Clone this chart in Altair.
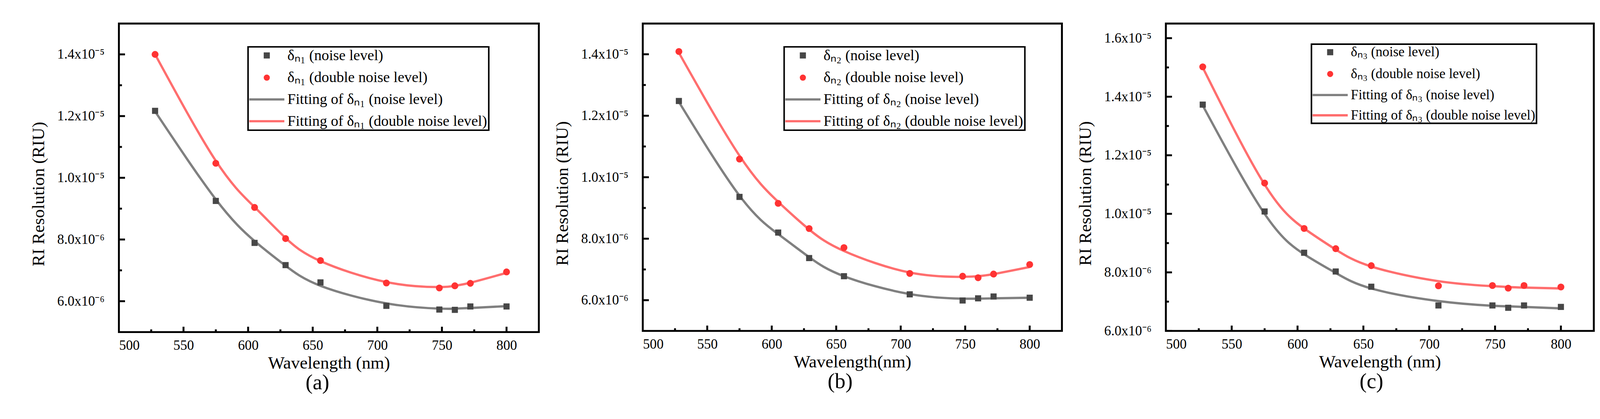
import altair as alt
import pandas as pd

# wavelengths of the measured points (nm)
WL = [528, 575, 605, 629, 656, 707, 748, 760, 772, 800]

# (a) delta_n1
A_NOISE = [1.217e-5, 9.25e-6, 7.89e-6, 7.17e-6, 6.61e-6, 5.85e-6, 5.73e-6, 5.72e-6, 5.83e-6, 5.83e-6]
A_DOUBLE = [1.400e-5, 1.047e-5, 9.04e-6, 8.03e-6, 7.32e-6, 6.59e-6, 6.43e-6, 6.50e-6, 6.58e-6, 6.95e-6]
A_FIT_NOISE = [1.215e-5, 9.30e-6, 7.95e-6, 7.15e-6, 6.50e-6, 5.93e-6, 5.76e-6, 5.76e-6, 5.78e-6, 5.84e-6]
A_FIT_DOUBLE = [1.400e-5, 1.055e-5, 9.05e-6, 8.05e-6, 7.30e-6, 6.62e-6, 6.46e-6, 6.50e-6, 6.60e-6, 6.92e-6]

# (b) delta_n2
B_NOISE = [1.248e-5, 9.36e-6, 8.20e-6, 7.37e-6, 6.78e-6, 6.19e-6, 5.99e-6, 6.06e-6, 6.12e-6, 6.08e-6]
B_DOUBLE = [1.409e-5, 1.059e-5, 9.15e-6, 8.33e-6, 7.71e-6, 6.87e-6, 6.78e-6, 6.73e-6, 6.85e-6, 7.16e-6]
B_FIT_NOISE = [1.245e-5, 9.40e-6, 8.15e-6, 7.40e-6, 6.78e-6, 6.20e-6, 6.05e-6, 6.05e-6, 6.06e-6, 6.08e-6]
B_FIT_DOUBLE = [1.405e-5, 1.070e-5, 9.20e-6, 8.30e-6, 7.60e-6, 6.90e-6, 6.76e-6, 6.78e-6, 6.85e-6, 7.08e-6]

# (c) delta_n3
C_NOISE = [1.373e-5, 1.008e-5, 8.67e-6, 8.03e-6, 7.51e-6, 6.87e-6, 6.87e-6, 6.79e-6, 6.87e-6, 6.82e-6]
C_DOUBLE = [1.502e-5, 1.105e-5, 9.50e-6, 8.81e-6, 8.23e-6, 7.54e-6, 7.55e-6, 7.46e-6, 7.55e-6, 7.50e-6]
C_FIT_NOISE = [1.370e-5, 1.000e-5, 8.62e-6, 7.98e-6, 7.45e-6, 7.02e-6, 6.86e-6, 6.84e-6, 6.82e-6, 6.77e-6]
C_FIT_DOUBLE = [1.500e-5, 1.100e-5, 9.50e-6, 8.78e-6, 8.20e-6, 7.70e-6, 7.53e-6, 7.50e-6, 7.48e-6, 7.45e-6]

X_MAJOR = [500, 550, 600, 650, 700, 750, 800]
X_MINOR = [525, 575, 625, 675, 725, 775]
Y_MAJOR_AB = [6e-6, 8e-6, 1.0e-5, 1.2e-5, 1.4e-5]
Y_MINOR_AB = [7e-6, 9e-6, 1.1e-5, 1.3e-5]
Y_MAJOR_C = [6e-6, 8e-6, 1.0e-5, 1.2e-5, 1.4e-5, 1.6e-5]
Y_MINOR_C = [7e-6, 9e-6, 1.1e-5, 1.3e-5, 1.5e-5]

FONT = "Liberation Serif"
FILLS = ["#474747", "#ff3333", "transparent", "transparent"]
STROKES = ["transparent", "transparent", "#808080", "#ff6e6e"]
LINE_SYMBOL = "M-5.75,0H5.75"
SHAPES = ["square", "circle", LINE_SYMBOL, LINE_SYMBOL]

SUP_LABELS = (
    "datum.value >= 9.9e-6 ? format(datum.value * 1e5, '.1f') + 'x10\u207b\u2075'"
    " : format(datum.value * 1e6, '.1f') + 'x10\u207b\u2076'"
)


def panel(noise, double, fit_noise, fit_double, sub, letter, ydom, ymaj, ymin,
          width, height, lx, ly, legend_size, x_title, title_dx):
    d = "\u03b4\u2099" + sub
    names = [f"{d} (noise level)", f"{d} (double noise level)",
             f"Fitting of {d} (noise level)", f"Fitting of {d} (double noise level)"]
    pts = pd.DataFrame({
        "wl": WL + WL,
        "val": noise + double,
        "series": [names[0]] * len(WL) + [names[1]] * len(WL),
    })
    fits = pd.DataFrame({
        "wl": WL + WL,
        "val": fit_noise + fit_double,
        "series": [names[2]] * len(WL) + [names[3]] * len(WL),
    })

    x_enc = alt.X("wl:Q", scale=alt.Scale(domain=[500, 825], nice=False, zero=False),
                  axis=alt.Axis(values=X_MAJOR, ticks=False, domain=False, grid=False,
                                format="d", labelFont=FONT, labelFontSize=36, labelColor="black",
                                labelPadding=18, title=x_title, titleFont=FONT,
                                titleFontSize=46, titleFontWeight="normal", titleColor="black",
                                titlePadding=6))
    y_enc = alt.Y("val:Q", scale=alt.Scale(domain=ydom, nice=False, zero=False),
                  axis=alt.Axis(values=ymaj, ticks=False, domain=False, grid=False,
                                labelExpr=SUP_LABELS, labelFont=FONT, labelFontSize=36,
                                labelColor="black", labelPadding=38,
                                title="RI Resolution (RIU)", titleFont=FONT, titleFontSize=46,
                                titleFontWeight="normal", titleColor="black",
                                titleX=-196, titleY=height / 2 + 42,
                                titleAlign="center", titleBaseline="alphabetic"))

    # symbol centre sits at max(symbol, font)/2 + symbolOffset
    off = max(22, legend_size)
    sym_off = 46 - off / 2
    legend = alt.Legend(
        title=None, orient="none", legendX=lx, legendY=ly,
        labelFont=FONT, labelFontSize=legend_size, labelColor="black", labelLimit=1000,
        symbolSize=256, symbolStrokeWidth=6, symbolFillColor="transparent",
        symbolStrokeColor="transparent", symbolOpacity=1,
        symbolOffset=sym_off, labelOffset=100 - off - sym_off,
        rowPadding=17, padding=3, strokeColor="black", fillColor="white",
    )
    fill = alt.Fill("series:N", scale=alt.Scale(domain=names, range=FILLS), legend=legend)
    stroke = alt.Stroke("series:N", scale=alt.Scale(domain=names, range=STROKES), legend=legend)
    shape = alt.Shape("series:N", scale=alt.Scale(domain=names, range=SHAPES), legend=legend)
    size = alt.Size("series:N", scale=alt.Scale(domain=names[:2], range=[256, 324]), legend=None)

    lines = alt.Chart(fits).mark_line(strokeWidth=6, interpolate="natural").encode(
        x=x_enc, y=y_enc, stroke=stroke)
    dots = alt.Chart(pts).mark_point(filled=True, opacity=1).encode(
        x=x_enc, y=y_enc, fill=fill, shape=shape, size=size)

    yt_major = alt.Chart(pd.DataFrame({"val": ymaj})).mark_rule(color="black", strokeWidth=5).encode(
        y=y_enc, x=alt.value(0), x2=alt.value(16))
    yt_minor = alt.Chart(pd.DataFrame({"val": ymin})).mark_rule(color="black", strokeWidth=5).encode(
        y=y_enc, x=alt.value(0), x2=alt.value(8))
    xt_major = alt.Chart(pd.DataFrame({"wl": X_MAJOR[1:]})).mark_rule(color="black", strokeWidth=5).encode(
        x=x_enc, y=alt.value(height), y2=alt.value(height - 14))
    xt_minor = alt.Chart(pd.DataFrame({"wl": X_MINOR})).mark_rule(color="black", strokeWidth=5).encode(
        x=x_enc, y=alt.value(height), y2=alt.value(height - 7))

    return alt.layer(lines, dots, yt_major, yt_minor, xt_major, xt_minor).properties(
        width=width, height=height,
        title=alt.TitleParams(letter, orient="bottom", font=FONT, fontSize=56,
                              fontWeight="normal", color="black", offset=2, dx=title_dx),
    )


pa = panel(A_NOISE, A_DOUBLE, A_FIT_NOISE, A_FIT_DOUBLE, "\u2081", "(a)",
           [5e-6, 1.5e-5], Y_MAJOR_AB, Y_MINOR_AB, 1099, 807, 338, 61, 39,
           "Wavelength (nm)", -30)
pb = panel(B_NOISE, B_DOUBLE, B_FIT_NOISE, B_FIT_DOUBLE, "\u2082", "(b)",
           [5e-6, 1.5e-5], Y_MAJOR_AB, Y_MINOR_AB, 1097, 804, 370, 61, 39,
           "Wavelength(nm)", -32)
pc = panel(C_NOISE, C_DOUBLE, C_FIT_NOISE, C_FIT_DOUBLE, "\u2083", "(c)",
           [6e-6, 1.65e-5], Y_MAJOR_C, Y_MINOR_C, 1120, 804, 381, 54, 36,
           "Wavelength (nm)", -22)

chart = alt.hconcat(pa, pb, pc, spacing=33).resolve_scale(
    fill="independent", stroke="independent", shape="independent", size="independent",
    x="independent", y="independent"
).resolve_legend(
    fill="independent", stroke="independent", shape="independent", size="independent"
).properties(
    padding={"left": 67, "top": 39, "right": 5, "bottom": 5}
).configure(font=FONT).configure_view(
    stroke="black", strokeWidth=5
).configure_axis(
    labelFont=FONT, titleFont=FONT, titleFontWeight="normal", labelColor="black", titleColor="black"
).configure_legend(
    labelFont=FONT, strokeColor="black", fillColor="white", strokeWidth=4
)

chart.save("out.html", embed_options={"renderer": "svg", "actions": False})
